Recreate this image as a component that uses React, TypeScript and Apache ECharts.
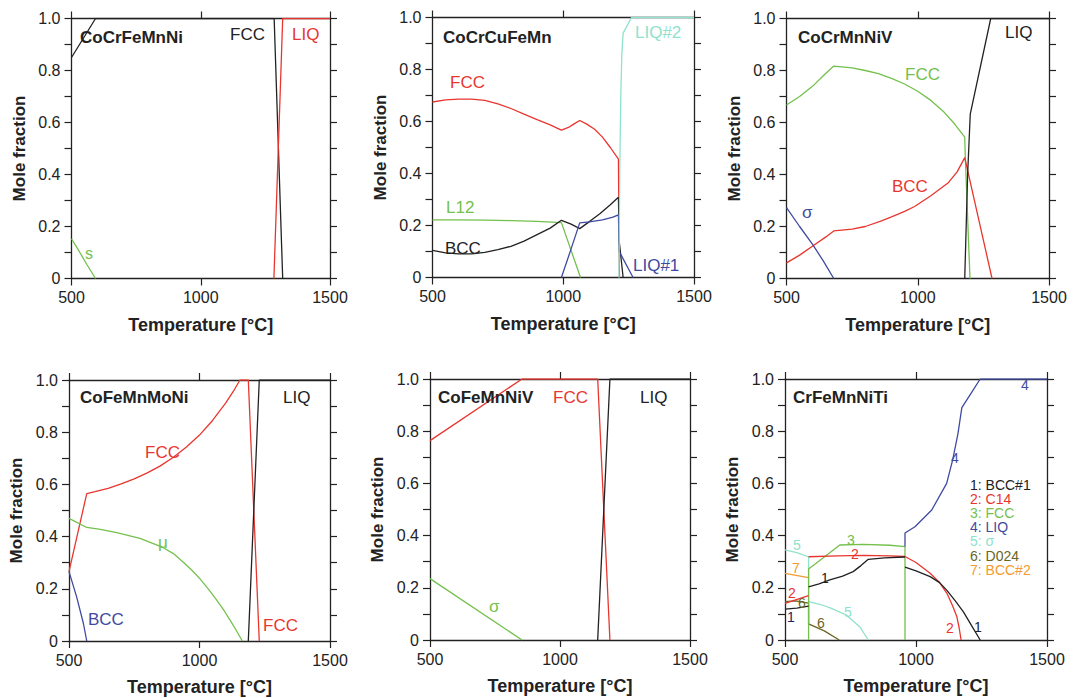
import React, { useEffect, useRef } from "react";
import * as echarts from "echarts";

// ---------- colours ----------
const RED = "#e8362f";
const GREEN = "#74c04c";
const BLUE = "#3f4aa0";
const TEAL = "#8fe2cc";
const OLIVE = "#6b6523";
const ORANGE = "#f59a2f";
const BLACK = "#222222";
const NAVY = "#1f2460";

// ---------- axis ticks ----------
const xTicks = [500, 1000, 1500];
const yTickLabels = ["0", "0.2", "0.4", "0.6", "0.8", "1.0"];

// ---------- panel titles ----------
const panelTitles = ["CoCrFeMnNi", "CoCrCuFeMn", "CoCrMnNiV", "CoFeMnMoNi", "CoFeMnNiV", "CrFeMnNiTi"];

// ---------- Panel 1: CoCrFeMnNi ----------
const p1Fcc: [number, number][] = [[500, 0.85], [593, 1.0], [1284, 1.0], [1317, 0]];
const p1Liq: [number, number][] = [[1283, 0], [1317, 1.0], [1500, 1.0]];
const p1Sigma: [number, number][] = [[500, 0.153], [530, 0.104], [560, 0.053], [593, 0]];

// ---------- Panel 2: CoCrCuFeMn ----------
const p2Fcc: [number, number][] = [
  [500, 0.675], [550, 0.683], [600, 0.686], [650, 0.686], [700, 0.681], [750, 0.668], [800, 0.65],
  [850, 0.628], [900, 0.607], [950, 0.587], [993, 0.567], [1020, 0.577], [1040, 0.59], [1063, 0.604],
  [1090, 0.59], [1120, 0.57], [1150, 0.54], [1180, 0.5], [1211, 0.455], [1213, 0.2], [1215, 0],
];
const p2L12: [number, number][] = [
  [500, 0.222], [600, 0.222], [700, 0.221], [800, 0.219], [900, 0.216], [993, 0.211], [1066, 0],
];
const p2Bcc: [number, number][] = [
  [500, 0.104], [550, 0.095], [600, 0.091], [650, 0.091], [700, 0.097], [750, 0.107], [800, 0.12],
  [850, 0.14], [900, 0.165], [950, 0.19], [993, 0.22], [1030, 0.205], [1063, 0.188], [1100, 0.215],
  [1140, 0.245], [1180, 0.28], [1211, 0.309], [1214, 0.14], [1229, 0],
];
const p2Liq1: [number, number][] = [
  [993, 0], [1030, 0.11], [1063, 0.21], [1100, 0.214], [1150, 0.222], [1190, 0.232], [1211, 0.241],
  [1214, 0.1], [1222, 0.085], [1267, 0],
];
const p2Liq2: [number, number][] = [
  [1213, 0], [1216, 0.4], [1220, 0.7], [1224, 0.86], [1229, 0.94], [1261, 1.0], [1500, 1.0],
];

// ---------- Panel 3: CoCrMnNiV ----------
const p3Fcc: [number, number][] = [
  [500, 0.667], [550, 0.7], [600, 0.74], [640, 0.78], [680, 0.817], [750, 0.81], [800, 0.8],
  [850, 0.788], [900, 0.77], [950, 0.748], [1000, 0.72], [1050, 0.685], [1100, 0.64], [1140, 0.595],
  [1179, 0.544], [1181, 0.47], [1199, 0],
];
const p3Bcc: [number, number][] = [
  [500, 0.06], [550, 0.09], [600, 0.125], [650, 0.16], [680, 0.183], [750, 0.19], [800, 0.2],
  [862, 0.222], [900, 0.237], [950, 0.258], [988, 0.277], [1050, 0.318], [1115, 0.367], [1150, 0.41],
  [1179, 0.465], [1283, 0],
];
const p3Sigma: [number, number][] = [[500, 0.273], [550, 0.2], [600, 0.13], [640, 0.068], [680, 0]];
const p3Liq: [number, number][] = [[1179, 0], [1190, 0.4], [1200, 0.632], [1278, 1.0], [1500, 1.0]];

// ---------- Panel 4: CoFeMnMoNi ----------
const p4Fcc: [number, number][] = [
  [500, 0.266], [568, 0.565], [600, 0.572], [650, 0.585], [700, 0.602], [750, 0.621], [800, 0.644],
  [850, 0.671], [900, 0.704], [950, 0.743], [1000, 0.789], [1050, 0.845], [1100, 0.911], [1130, 0.957],
  [1155, 1.0], [1187, 1.0], [1229, 0],
];
const p4Mu: [number, number][] = [
  [500, 0.47], [568, 0.435], [620, 0.428], [683, 0.415], [772, 0.393], [855, 0.361], [900, 0.335],
  [938, 0.302], [970, 0.272], [1002, 0.238], [1035, 0.198], [1066, 0.157], [1095, 0.115], [1117, 0.08],
  [1140, 0.042], [1164, 0],
];
const p4Bcc: [number, number][] = [[500, 0.266], [529, 0.17], [555, 0.068], [568, 0]];
const p4Liq: [number, number][] = [[1187, 0], [1229, 1.0], [1500, 1.0]];

// ---------- Panel 5: CoFeMnNiV ----------
const p5Fcc: [number, number][] = [[500, 0.764], [854, 1.0], [1145, 1.0], [1192, 0]];
const p5Liq: [number, number][] = [[1145, 0], [1192, 1.0], [1500, 1.0]];
const p5Sigma: [number, number][] = [[500, 0.235], [854, 0]];

// ---------- Panel 6: CrFeMnNiTi ----------
const p6Bcc1A: [number, number][] = [[500, 0.118], [545, 0.122], [590, 0.13]];
const p6Bcc1B: [number, number][] = [
  [590, 0.204], [630, 0.215], [671, 0.23], [720, 0.245], [760, 0.262], [790, 0.285], [818, 0.309],
  [880, 0.315], [958, 0.318],
];
const p6Bcc1C: [number, number][] = [
  [958, 0.279], [1000, 0.265], [1054, 0.243], [1090, 0.22], [1118, 0.19], [1150, 0.15], [1181, 0.108],
  [1215, 0.05], [1245, 0],
];
const p6C14A: [number, number][] = [[500, 0.14], [590, 0.17]];
const p6C14B: [number, number][] = [[590, 0.319], [700, 0.322], [800, 0.324], [900, 0.322], [958, 0.32]];
const p6C14C: [number, number][] = [
  [958, 0.32], [1000, 0.297], [1054, 0.256], [1090, 0.22], [1118, 0.179], [1140, 0.13], [1156, 0.089],
  [1165, 0.045], [1172, 0],
];
const p6Fcc: [number, number][] = [
  [590, 0], [590, 0.272], [650, 0.318], [709, 0.364], [800, 0.366], [900, 0.363], [958, 0.358], [958, 0],
];
const p6Liq: [number, number][] = [
  [958, 0.358], [958, 0.41], [996, 0.434], [1060, 0.498], [1117, 0.6], [1140, 0.69], [1160, 0.79],
  [1175, 0.89], [1210, 0.945], [1245, 1.0], [1500, 1.0],
];
const p6SigmaA: [number, number][] = [[500, 0.345], [545, 0.335], [590, 0.319], [590, 0.147]];
const p6SigmaB: [number, number][] = [
  [590, 0.147], [640, 0.135], [677, 0.121], [735, 0.095], [785, 0.051], [818, 0],
];
const p6D024A: [number, number][] = [[500, 0.147], [540, 0.15], [590, 0.141], [590, 0.062]];
const p6D024B: [number, number][] = [[590, 0.062], [650, 0.035], [707, 0]];
const p6Bcc2: [number, number][] = [[500, 0.255], [590, 0.239]];

// ---------- layout ----------
const GRIDS = [
  { left: 71.5, top: 18.5, width: 258.5, height: 260 },
  { left: 432.5, top: 17.5, width: 261.5, height: 260 },
  { left: 786.5, top: 18.5, width: 262.5, height: 260 },
  { left: 69, top: 380, width: 261, height: 261 },
  { left: 430, top: 379, width: 260, height: 261 },
  { left: 785, top: 379, width: 262, height: 261 },
];

const FONT = '"Liberation Sans", Arial, Helvetica, sans-serif';

const SERIES = [
  { g: 0, d: p1Fcc, c: BLACK }, { g: 0, d: p1Liq, c: RED }, { g: 0, d: p1Sigma, c: GREEN },
  { g: 1, d: p2Fcc, c: RED }, { g: 1, d: p2L12, c: GREEN }, { g: 1, d: p2Bcc, c: BLACK },
  { g: 1, d: p2Liq1, c: BLUE }, { g: 1, d: p2Liq2, c: TEAL },
  { g: 2, d: p3Fcc, c: GREEN }, { g: 2, d: p3Bcc, c: RED }, { g: 2, d: p3Sigma, c: BLUE }, { g: 2, d: p3Liq, c: BLACK },
  { g: 3, d: p4Fcc, c: RED }, { g: 3, d: p4Mu, c: GREEN }, { g: 3, d: p4Bcc, c: BLUE }, { g: 3, d: p4Liq, c: BLACK },
  { g: 4, d: p5Fcc, c: RED }, { g: 4, d: p5Liq, c: BLACK }, { g: 4, d: p5Sigma, c: GREEN },
  { g: 5, d: p6SigmaA, c: TEAL }, { g: 5, d: p6SigmaB, c: TEAL },
  { g: 5, d: p6D024A, c: OLIVE }, { g: 5, d: p6D024B, c: OLIVE },
  { g: 5, d: p6Bcc2, c: ORANGE },
  { g: 5, d: p6Fcc, c: GREEN },
  { g: 5, d: p6C14A, c: RED }, { g: 5, d: p6C14B, c: RED }, { g: 5, d: p6C14C, c: RED },
  { g: 5, d: p6Bcc1A, c: BLACK }, { g: 5, d: p6Bcc1B, c: BLACK }, { g: 5, d: p6Bcc1C, c: BLACK },
  { g: 5, d: p6Liq, c: BLUE },
];

// text annotations: [text, x, y, colour, size, bold, align]
type Lbl = [string, number, number, string, number, boolean, string];
const TITLE_POS: [number, number][] = [[80, 37], [443, 37], [798, 37], [80, 397], [438, 397], [793, 397]];
const LABELS: Lbl[] = [
  ["FCC", 230, 34, BLACK, 17, false, "left"],
  ["LIQ", 292, 34, RED, 17, false, "left"],
  ["s", 85, 253, GREEN, 16, false, "left"],
  ["FCC", 450, 82, RED, 17, false, "left"],
  ["L12", 446, 207, GREEN, 17, false, "left"],
  ["BCC", 445, 248, BLACK, 17, false, "left"],
  ["LIQ#2", 635, 32, TEAL, 17, false, "left"],
  ["LIQ#1", 633, 265, BLUE, 17, false, "left"],
  ["FCC", 905, 74, GREEN, 17, false, "left"],
  ["BCC", 892, 186, RED, 17, false, "left"],
  ["σ", 802, 212, BLUE, 17, false, "left"],
  ["LIQ", 1005, 32, BLACK, 17, false, "left"],
  ["LIQ", 283, 397, BLACK, 17, false, "left"],
  ["FCC", 145, 452, RED, 17, false, "left"],
  ["μ", 158, 542, GREEN, 17, false, "left"],
  ["BCC", 88, 619, BLUE, 17, false, "left"],
  ["FCC", 263, 625, RED, 17, false, "left"],
  ["FCC", 553, 397, RED, 17, false, "left"],
  ["LIQ", 640, 397, BLACK, 17, false, "left"],
  ["σ", 489, 606, GREEN, 17, false, "left"],
  ["4", 1025, 385, BLUE, 14, false, "center"],
  ["4", 955, 458, BLUE, 14, false, "center"],
  ["5", 797, 545, TEAL, 14, false, "center"],
  ["3", 851, 540, GREEN, 14, false, "center"],
  ["2", 855, 554, RED, 14, false, "center"],
  ["7", 796, 568, ORANGE, 14, false, "center"],
  ["1", 825, 578, BLACK, 14, false, "center"],
  ["2", 792, 593, RED, 14, false, "center"],
  ["6", 802, 603, OLIVE, 14, false, "center"],
  ["1", 791, 617, NAVY, 14, false, "center"],
  ["5", 848, 612, TEAL, 14, false, "center"],
  ["6", 821, 623, OLIVE, 14, false, "center"],
  ["2", 950, 628, RED, 14, false, "center"],
  ["1", 978, 627, BLACK, 14, false, "center"],
];
const legendItems = ["1: BCC#1", "2: C14", "3: FCC", "4: LIQ", "5: σ", "6: D024", "7: BCC#2"];
const legendColors = [BLACK, RED, GREEN, BLUE, TEAL, OLIVE, ORANGE];

export default function App() {
  const ref = useRef<HTMLDivElement>(null);
  useEffect(() => {
    if (!ref.current) return;
    const chart = echarts.init(ref.current, undefined, { renderer: "svg" });
    const axisLine = { show: true, onZero: false, lineStyle: { color: BLACK, width: 1.3 } };
    const tick = { show: true, inside: false, length: 7, lineStyle: { color: BLACK, width: 1.2 } };
    const xAxis: any[] = [];
    const yAxis: any[] = [];
    GRIDS.forEach((_, i) => {
      xAxis.push({
        type: "value", gridIndex: i, position: "bottom", min: xTicks[0], max: xTicks[xTicks.length - 1],
        interval: xTicks[1] - xTicks[0], axisLine, axisTick: tick, splitLine: { show: false },
        axisLabel: {
          show: true, color: BLACK, fontSize: 16, fontFamily: FONT, margin: 11,
          formatter: (v: number) => String(Math.round(v)),
        },
        name: "Temperature [°C]", nameLocation: "middle", nameGap: 37,
        nameTextStyle: { color: BLACK, fontSize: 18, fontWeight: "bold", fontFamily: FONT },
      });
      xAxis.push({
        type: "value", gridIndex: i, position: "top", min: xTicks[0], max: xTicks[xTicks.length - 1],
        interval: xTicks[1] - xTicks[0], axisLine, axisTick: tick, splitLine: { show: false },
        axisLabel: { show: false },
      });
      yAxis.push({
        type: "value", gridIndex: i, position: "left", min: 0, max: 1, interval: 0.1,
        axisLine, axisTick: tick, splitLine: { show: false },
        axisLabel: {
          show: true, color: BLACK, fontSize: 16, fontFamily: FONT, margin: 11,
          formatter: (v: number) => {
            const k = Math.round(v * 10);
            return k % 2 === 0 ? yTickLabels[k / 2] : "";
          },
        },
        name: "Mole fraction", nameLocation: "middle", nameGap: 44,
        nameTextStyle: { color: BLACK, fontSize: 17, fontWeight: "bold", fontFamily: FONT },
      });
      yAxis.push({
        type: "value", gridIndex: i, position: "right", min: 0, max: 1, interval: 0.1,
        axisLine, axisTick: tick, splitLine: { show: false }, axisLabel: { show: false },
      });
    });
    const series = SERIES.map((s) => ({
      type: "line", xAxisIndex: s.g * 2, yAxisIndex: s.g * 2, data: s.d, showSymbol: false,
      symbol: "none", lineStyle: { color: s.c, width: 1.3 }, itemStyle: { color: s.c },
      silent: true, clip: true,
    }));
    const graphic: any[] = [];
    panelTitles.forEach((t, i) => {
      graphic.push({
        type: "text", x: TITLE_POS[i][0], y: TITLE_POS[i][1], z: 100,
        style: { text: t, fill: BLACK, font: `bold 17px ${FONT}`, align: "left", verticalAlign: "middle" },
      });
    });
    LABELS.forEach(([t, x, y, c, sz, b, al]) => {
      graphic.push({
        type: "text", x, y, z: 100,
        style: { text: t, fill: c, font: `${b ? "bold " : ""}${sz}px ${FONT}`, align: al, verticalAlign: "middle" },
      });
    });
    legendItems.forEach((t, i) => {
      graphic.push({
        type: "text", x: 970, y: 485 + i * 14.1, z: 100,
        style: { text: t, fill: legendColors[i], font: `14px ${FONT}`, align: "left", verticalAlign: "middle" },
      });
    });
    chart.setOption({
      animation: false,
      backgroundColor: "#ffffff",
      grid: GRIDS.map((g) => ({ ...g, containLabel: false })),
      xAxis,
      yAxis,
      series,
      graphic,
    });
    return () => chart.dispose();
  }, []);
  return (
    <div
      ref={ref}
      style={{ position: "fixed", left: 0, top: 0, width: 1075, height: 698, background: "#fff" }}
    />
  );
}
